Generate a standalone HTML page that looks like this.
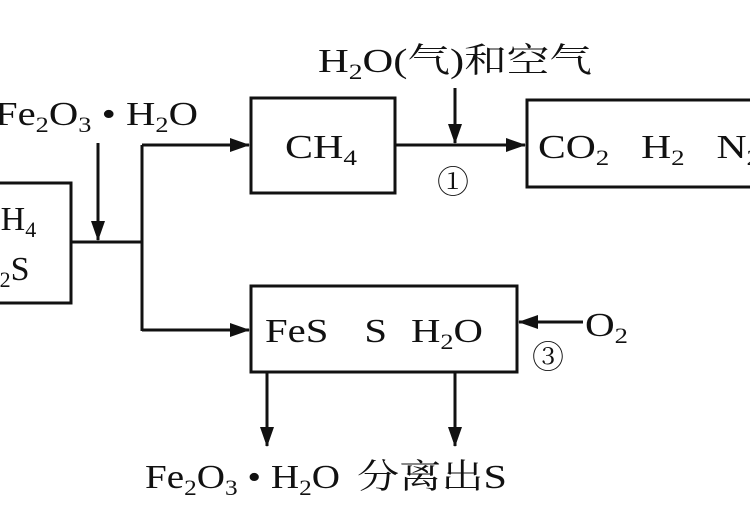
<!DOCTYPE html>
<html><head><meta charset="utf-8"><style>
html,body{margin:0;padding:0;background:#fff;}
svg text{font-family:"Liberation Serif","Noto Serif CJK SC",serif;fill:#111;}
</style></head><body>
<svg width="750" height="500" viewBox="0 0 750 500" xmlns="http://www.w3.org/2000/svg">
<defs>
<marker id="b" markerWidth="20" markerHeight="14" refX="19" refY="7" orient="auto" markerUnits="userSpaceOnUse"><path d="M0,0 L20,7 L0,14 Z" fill="#111"/></marker></defs>
<g stroke="#111" stroke-width="3" fill="none">
<rect x="-10" y="183" width="81" height="120"/>
<rect x="251" y="98" width="144" height="95"/>
<rect x="527" y="100" width="230" height="87"/>
<rect x="251" y="286" width="266" height="86"/>
<line x1="71" y1="242" x2="142" y2="242"/>
<line x1="98" y1="143" x2="98" y2="240" marker-end="url(#b)"/>
<line x1="142" y1="145" x2="142" y2="331"/>
<line x1="142" y1="145" x2="249" y2="145" marker-end="url(#b)"/>
<line x1="142" y1="330" x2="249" y2="330" marker-end="url(#b)"/>
<line x1="395" y1="145" x2="525" y2="145" marker-end="url(#b)"/>
<line x1="455" y1="88" x2="455" y2="143" marker-end="url(#b)"/>
<line x1="583" y1="322" x2="519" y2="322" marker-end="url(#b)"/>
<line x1="267" y1="372" x2="267" y2="446" marker-end="url(#b)"/>
<line x1="455" y1="372" x2="455" y2="446" marker-end="url(#b)"/>
</g>
<g font-size="34">
<text x="-5" y="125" textLength="203" lengthAdjust="spacingAndGlyphs">Fe<tspan font-size="22" dy="7">2</tspan><tspan dy="-7">O</tspan><tspan font-size="22" dy="7">3</tspan><tspan dy="-7"> • H</tspan><tspan font-size="22" dy="7">2</tspan><tspan dy="-7">O</tspan></text>
<text x="-22" y="230">CH<tspan font-size="22" dy="7">4</tspan></text>
<text x="-25" y="280">H<tspan font-size="22" dy="7">2</tspan><tspan dy="-7">S</tspan></text>
<text x="285" y="158" textLength="72" lengthAdjust="spacingAndGlyphs">CH<tspan font-size="22" dy="7">4</tspan></text>
<text x="318" y="72" textLength="274" lengthAdjust="spacingAndGlyphs">H<tspan font-size="22" dy="7">2</tspan><tspan dy="-7">O(气)和空气</tspan></text>
<text x="437" y="193" font-size="32">①</text>
<text x="538" y="158" textLength="222" lengthAdjust="spacingAndGlyphs">CO<tspan font-size="22" dy="7">2</tspan><tspan dy="-7" dx="26">H</tspan><tspan font-size="22" dy="7">2</tspan><tspan dy="-7" dx="26">N</tspan><tspan font-size="22" dy="7">2</tspan></text>
<text x="265" y="342" textLength="218" lengthAdjust="spacingAndGlyphs">FeS<tspan dx="30">S</tspan><tspan dx="20">H</tspan><tspan font-size="22" dy="7">2</tspan><tspan dy="-7">O</tspan></text>
<text x="585" y="336" textLength="43" lengthAdjust="spacingAndGlyphs">O<tspan font-size="22" dy="7">2</tspan></text>
<text x="532" y="368" font-size="32">③</text>
<text x="145" y="488" textLength="195" lengthAdjust="spacingAndGlyphs">Fe<tspan font-size="22" dy="7">2</tspan><tspan dy="-7">O</tspan><tspan font-size="22" dy="7">3</tspan><tspan dy="-7"> • H</tspan><tspan font-size="22" dy="7">2</tspan><tspan dy="-7">O</tspan></text>
<text x="357" y="488" textLength="150" lengthAdjust="spacingAndGlyphs">分离出S</text>
</g>
</svg>
</body></html>
